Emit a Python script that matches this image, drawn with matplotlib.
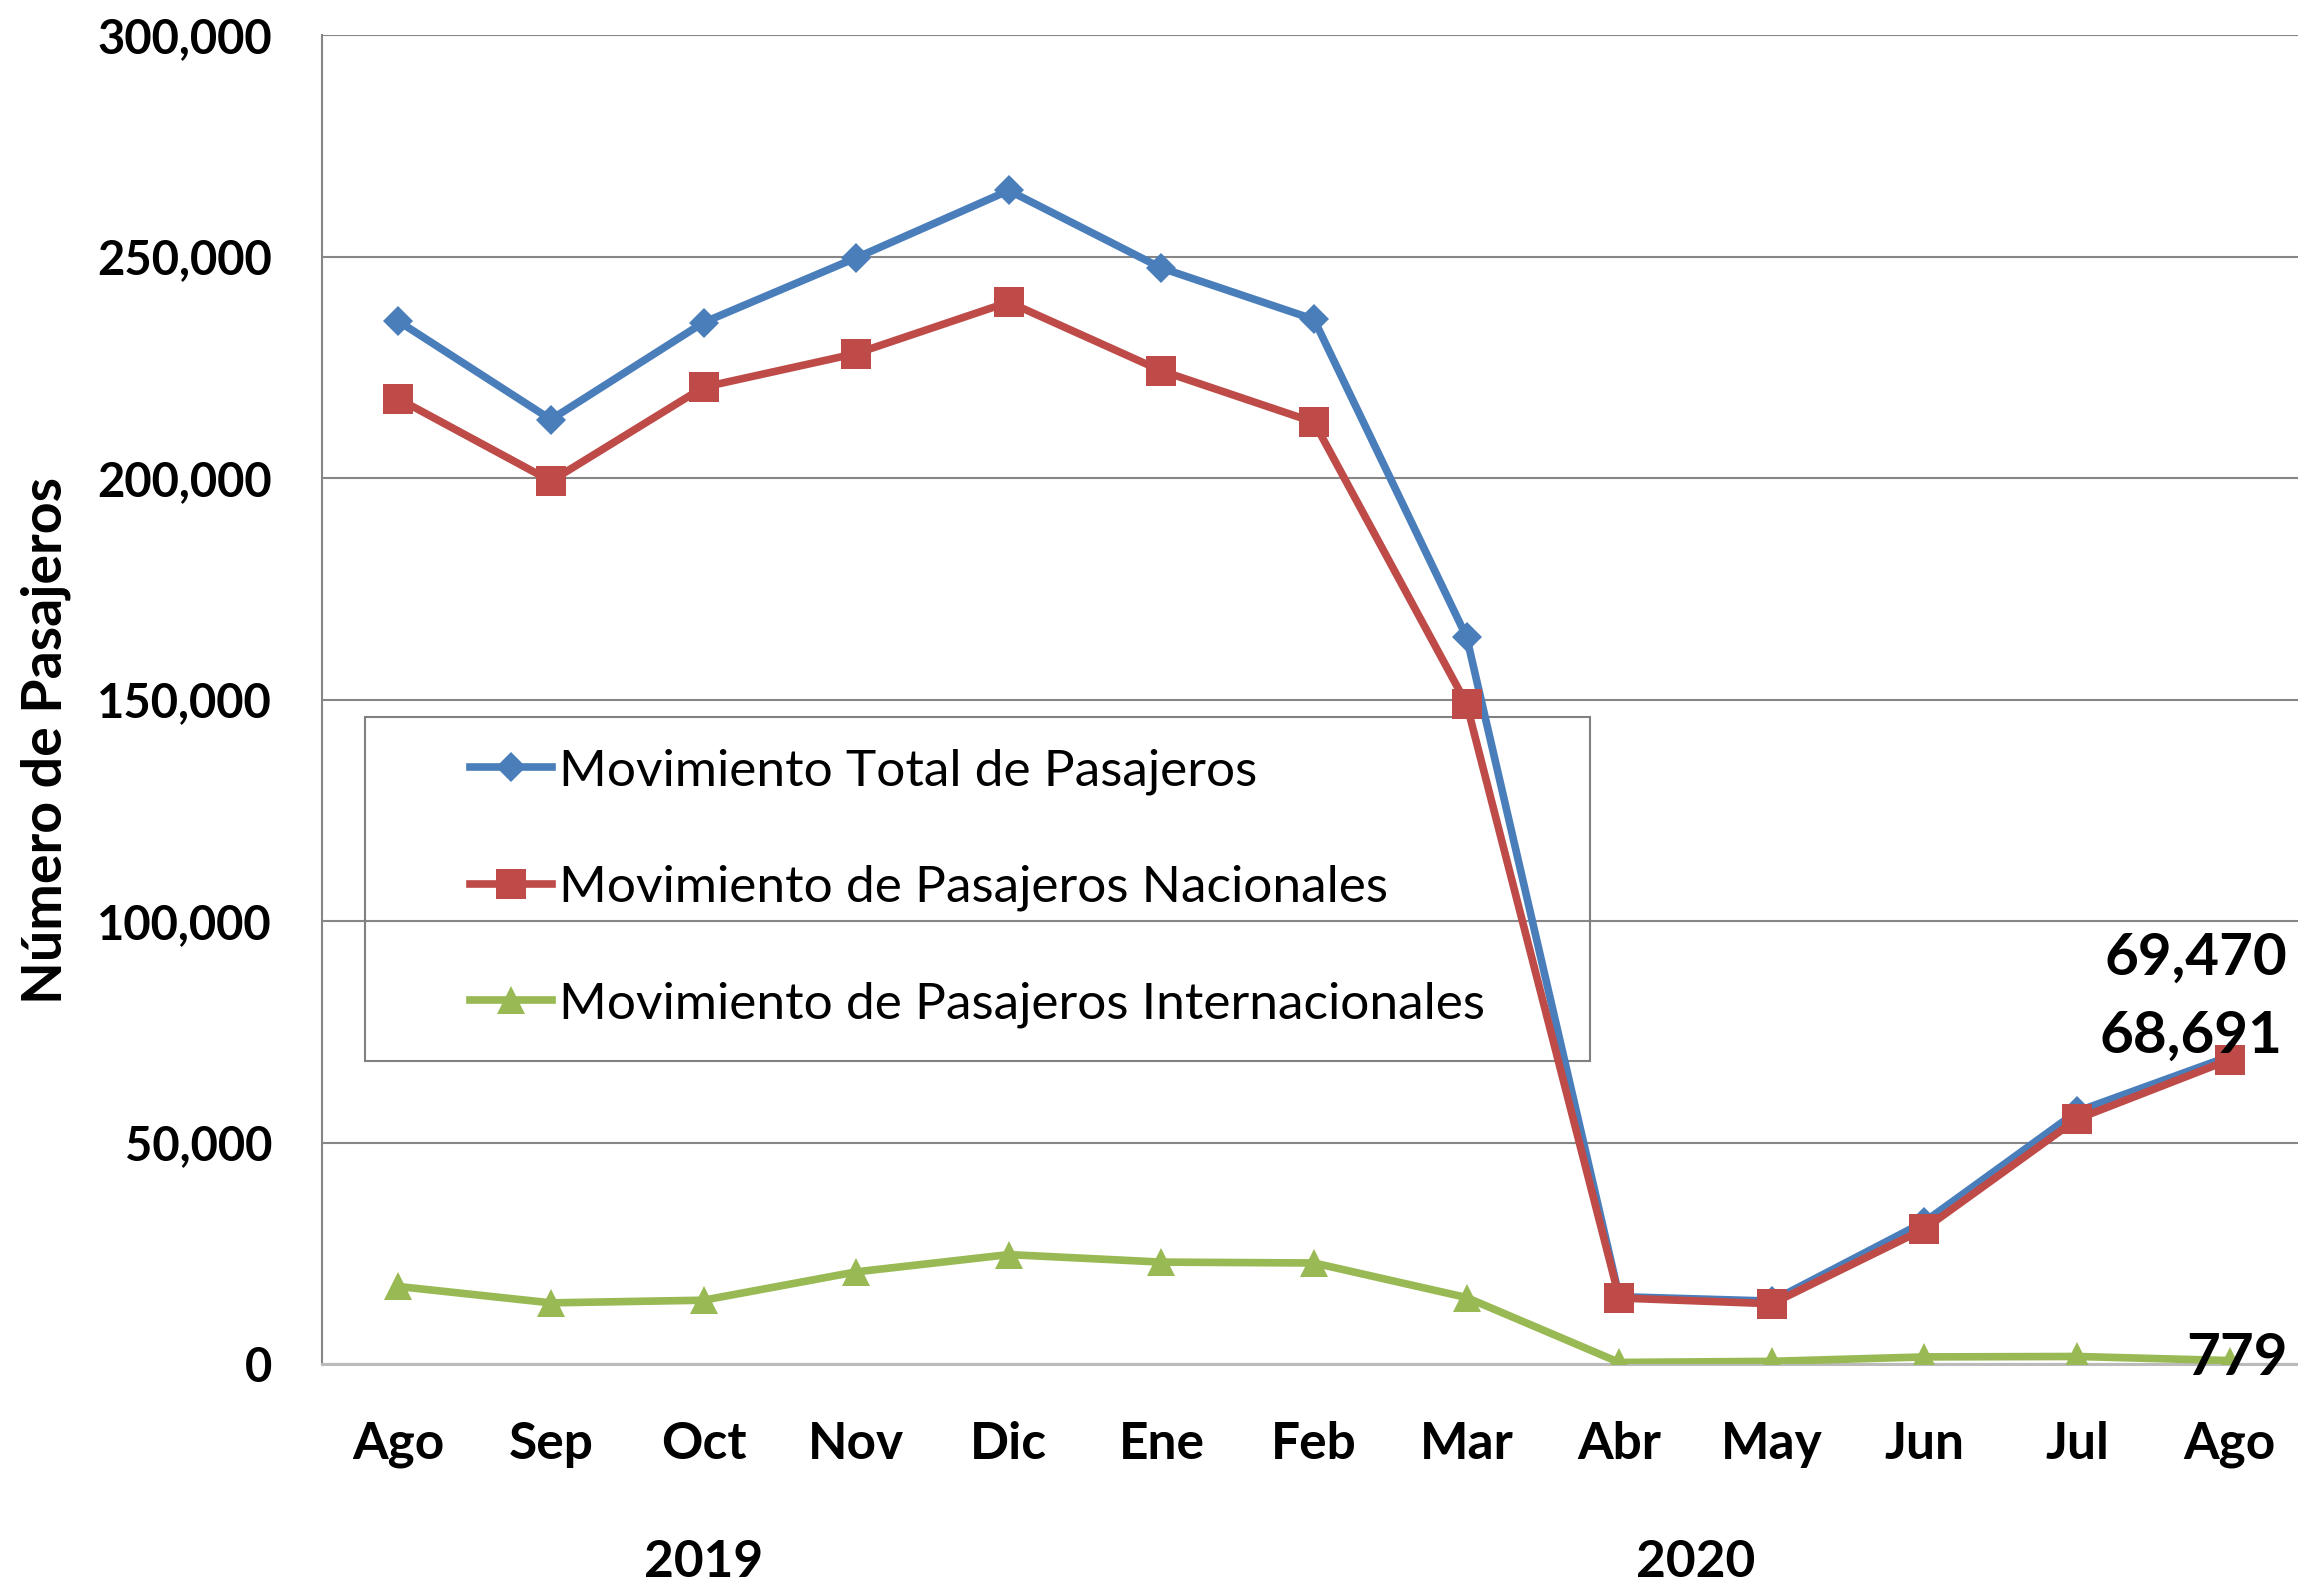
import matplotlib
matplotlib.use("Agg")
import matplotlib.pyplot as plt
import matplotlib.transforms as mtransforms
from matplotlib.patches import Rectangle
from matplotlib.ticker import FuncFormatter

plt.rcParams['font.family'] = ['Lato', 'DejaVu Sans']

# --- data ---
months = ['Ago', 'Sep', 'Oct', 'Nov', 'Dic', 'Ene', 'Feb', 'Mar', 'Abr', 'May', 'Jun', 'Jul', 'Ago']
years = ['2019', '2020']
year_pos = [2, 8.5]

total = [235400, 213200, 235100, 249700, 264900, 247400, 235800, 164100, 15200, 14200, 32100, 57000, 69470]
nacional = [217900, 199300, 220500, 228100, 239700, 224200, 212600, 149000, 14900, 13600, 30500, 55300, 68691]
internacional = [17500, 13800, 14400, 20800, 24700, 23000, 22800, 15000, 350, 600, 1600, 1700, 779]

labels = ['Movimiento Total de Pasajeros',
          'Movimiento de Pasajeros Nacionales',
          'Movimiento de Pasajeros Internacionales']

W, H = 2298, 1582
fig = plt.figure(figsize=(W / 100, H / 100), dpi=100)
ax = fig.add_axes([322 / W, 1 - 1364 / H, 1984 / W, 1329 / H])

x = list(range(len(months)))
ax.plot(x, total, color='#4A7EBB', lw=5.5, marker='D', ms=15, mew=0, zorder=4, label=labels[0])
ax.plot(x, nacional, color='#BE4B48', lw=5.5, marker='s', ms=21, mew=0, zorder=5, label=labels[1])
ax.plot(x, internacional, color='#98B954', lw=5.5, marker='^', ms=20, mew=0, zorder=3, label=labels[2])

ax.set_xlim(-0.5, 12.5)
ax.set_ylim(0, 300000)
ax.set_yticks(range(0, 300001, 50000))
ax.yaxis.set_major_formatter(FuncFormatter(lambda v, p: f'{v:,.0f}'))
ax.set_xticks(x)
ax.set_xticklabels(months)

ax.tick_params(axis='y', length=0, pad=36, labelsize=34)
ax.tick_params(axis='x', length=0, pad=41, labelsize=37)
for t in ax.get_xticklabels() + ax.get_yticklabels():
    t.set_fontweight('bold')

ax.yaxis.grid(True, color='#868686', lw=1.5)
ax.set_axisbelow(True)
for s in ['top', 'right']:
    ax.spines[s].set_visible(False)
ax.spines['left'].set_color('#868686')
ax.spines['left'].set_linewidth(1.5)
ax.spines['bottom'].set_color('#BBBBBB')
ax.spines['bottom'].set_linewidth(2.2)

# year labels under the month labels
trans = mtransforms.blended_transform_factory(ax.transData, ax.transAxes)
for yr, xp in zip(years, year_pos):
    ax.text(xp, -0.1603, yr, transform=trans, ha='center', va='baseline',
            fontsize=37, fontweight='bold')

fig.text(46 / W, 1 - 740 / H, 'Número de Pasajeros', rotation=90, ha='center', va='center',
         fontsize=40, fontweight='bold')

# value labels on the last month
last = len(months) - 1
for series, off in [(total, (58, 82)), (nacional, (53, 7)), (internacional, (58, -14))]:
    ax.annotate(f'{series[last]:,}', xy=(last, series[last]), xytext=off,
                textcoords='offset pixels', ha='right', va='baseline',
                fontsize=42, fontweight='bold', annotation_clip=False, zorder=6)

# legend: transparent box drawn separately
box = Rectangle((365 / W, 1 - 1061 / H), 1225 / W, 344 / H, transform=fig.transFigure,
                fill=False, edgecolor='#808080', lw=1.5, zorder=2, clip_on=False)
ax.add_patch(box)
ax.legend(loc='center left', bbox_to_anchor=(470 / W, 1 - 888 / H), bbox_transform=fig.transFigure,
          frameon=False, borderpad=0, borderaxespad=0, handlelength=1.6, handletextpad=0.14,
          labelspacing=1.36, fontsize=37)

fig.savefig('out.png', dpi=100)
